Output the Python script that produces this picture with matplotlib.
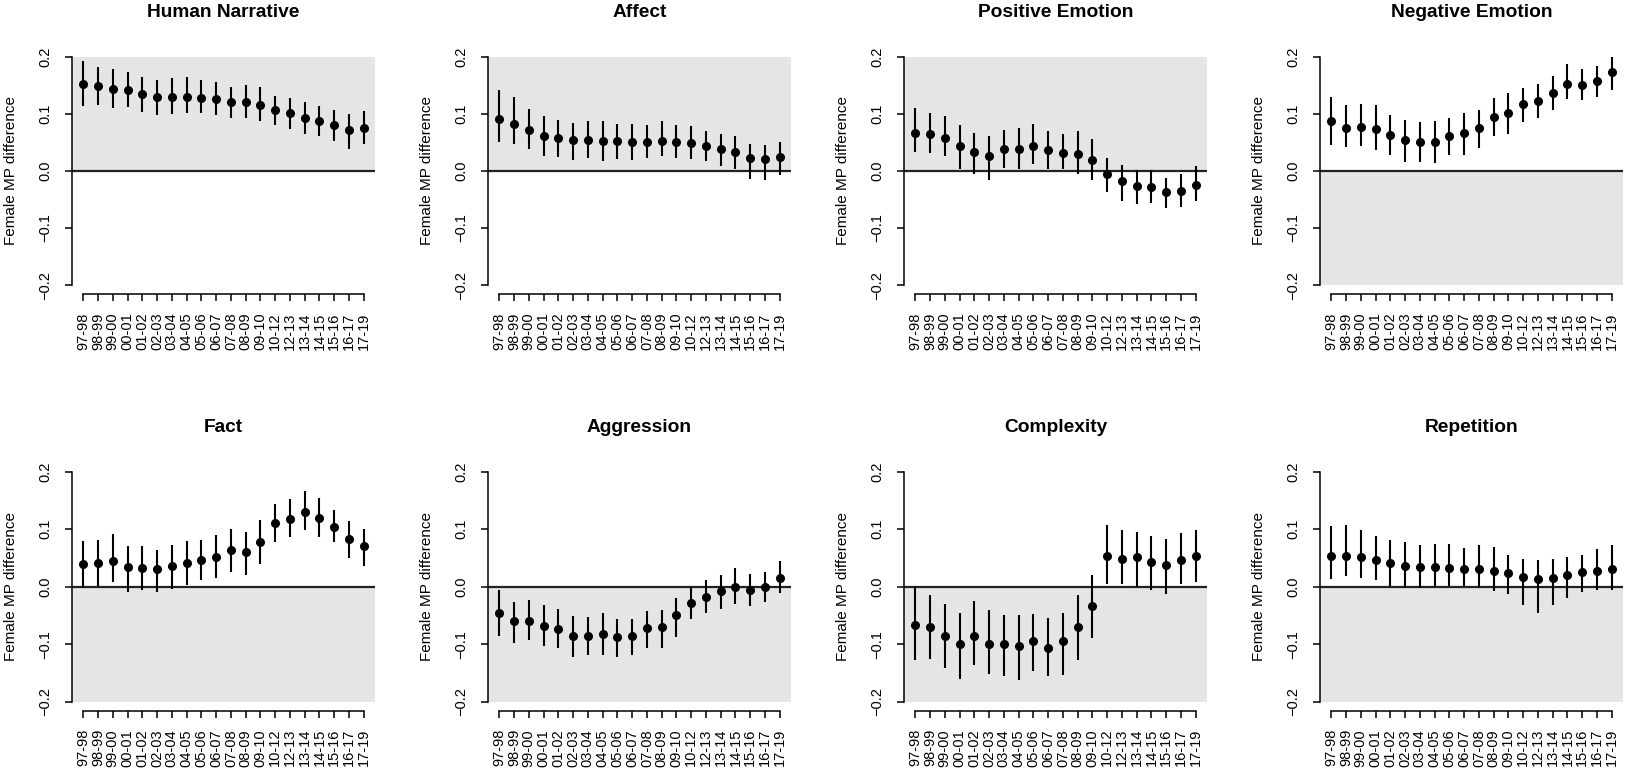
import numpy as np
import matplotlib
matplotlib.use("Agg")
import matplotlib.pyplot as plt

plt.rcParams['font.family'] = ['Liberation Sans', 'DejaVu Sans']

sessions = ['97-98', '98-99', '99-00', '00-01', '01-02', '02-03', '03-04',
            '04-05', '05-06', '06-07', '07-08', '08-09', '09-10', '10-12',
            '12-13', '13-14', '14-15', '15-16', '16-17', '17-19']

# estimate / lower / upper
narr_est = [0.152, 0.149, 0.144, 0.142, 0.134, 0.130, 0.130, 0.129, 0.128, 0.126,
            0.121, 0.121, 0.115, 0.106, 0.101, 0.092, 0.088, 0.080, 0.071, 0.075]
narr_lo = [0.114, 0.115, 0.111, 0.112, 0.104, 0.098, 0.100, 0.101, 0.101, 0.098,
           0.092, 0.092, 0.087, 0.081, 0.073, 0.065, 0.061, 0.053, 0.039, 0.047]
narr_hi = [0.192, 0.182, 0.178, 0.174, 0.165, 0.160, 0.163, 0.164, 0.160, 0.156,
           0.147, 0.150, 0.147, 0.131, 0.127, 0.121, 0.113, 0.106, 0.099, 0.105]

affect_est = [0.091, 0.082, 0.071, 0.062, 0.058, 0.054, 0.054, 0.053, 0.052, 0.051,
              0.051, 0.053, 0.051, 0.049, 0.043, 0.038, 0.033, 0.022, 0.020, 0.025]
affect_lo = [0.050, 0.048, 0.039, 0.026, 0.025, 0.019, 0.022, 0.018, 0.020, 0.019,
             0.023, 0.026, 0.022, 0.021, 0.017, 0.009, 0.004, -0.015, -0.016, -0.007]
affect_hi = [0.142, 0.129, 0.108, 0.097, 0.089, 0.084, 0.088, 0.087, 0.082, 0.082,
             0.080, 0.087, 0.081, 0.079, 0.070, 0.064, 0.061, 0.048, 0.046, 0.051]

pos_est = [0.067, 0.064, 0.058, 0.043, 0.033, 0.026, 0.038, 0.038, 0.043, 0.037,
           0.032, 0.030, 0.019, -0.006, -0.018, -0.026, -0.028, -0.037, -0.035, -0.025]
pos_lo = [0.033, 0.031, 0.026, 0.004, -0.006, -0.016, 0.005, 0.004, 0.012, 0.004,
          0.004, -0.005, -0.016, -0.037, -0.052, -0.058, -0.057, -0.065, -0.063, -0.053]
pos_hi = [0.111, 0.102, 0.096, 0.081, 0.067, 0.061, 0.071, 0.075, 0.082, 0.070,
          0.065, 0.070, 0.056, 0.022, 0.010, 0.002, 0.002, -0.012, -0.006, 0.008]

neg_est = [0.088, 0.076, 0.077, 0.074, 0.063, 0.055, 0.051, 0.051, 0.061, 0.066,
           0.075, 0.095, 0.102, 0.118, 0.122, 0.136, 0.153, 0.150, 0.157, 0.174]
neg_lo = [0.045, 0.041, 0.043, 0.036, 0.028, 0.015, 0.015, 0.013, 0.027, 0.028,
          0.040, 0.061, 0.065, 0.085, 0.092, 0.106, 0.126, 0.124, 0.129, 0.142]
neg_hi = [0.130, 0.116, 0.118, 0.115, 0.098, 0.089, 0.085, 0.087, 0.092, 0.101,
          0.107, 0.128, 0.136, 0.146, 0.153, 0.167, 0.188, 0.178, 0.184, 0.199]

fact_est = [0.039, 0.041, 0.045, 0.034, 0.032, 0.030, 0.036, 0.041, 0.047, 0.052,
            0.064, 0.061, 0.078, 0.111, 0.118, 0.130, 0.119, 0.103, 0.083, 0.070]
fact_lo = [-0.003, 0.001, 0.008, -0.009, -0.006, -0.010, -0.004, 0.003, 0.012, 0.016,
           0.026, 0.020, 0.039, 0.078, 0.086, 0.098, 0.087, 0.078, 0.050, 0.036]
fact_hi = [0.079, 0.082, 0.092, 0.071, 0.070, 0.063, 0.073, 0.080, 0.082, 0.090,
           0.100, 0.096, 0.116, 0.143, 0.152, 0.167, 0.154, 0.134, 0.114, 0.100]

aggr_est = [-0.045, -0.060, -0.059, -0.068, -0.074, -0.086, -0.086, -0.083, -0.088, -0.086,
            -0.072, -0.070, -0.049, -0.029, -0.018, -0.008, 0.000, -0.006, -0.001, 0.016]
aggr_lo = [-0.085, -0.098, -0.093, -0.103, -0.106, -0.122, -0.119, -0.119, -0.122, -0.119,
           -0.106, -0.106, -0.087, -0.056, -0.046, -0.039, -0.030, -0.034, -0.026, -0.011]
aggr_hi = [-0.005, -0.026, -0.023, -0.032, -0.039, -0.051, -0.053, -0.046, -0.056, -0.057,
           -0.043, -0.040, -0.019, -0.001, 0.012, 0.021, 0.032, 0.022, 0.025, 0.045]

comp_est = [-0.066, -0.070, -0.085, -0.100, -0.085, -0.099, -0.100, -0.103, -0.095, -0.106,
            -0.094, -0.070, -0.033, 0.053, 0.049, 0.051, 0.043, 0.038, 0.047, 0.053]
comp_lo = [-0.128, -0.125, -0.141, -0.161, -0.136, -0.151, -0.155, -0.163, -0.146, -0.155,
           -0.154, -0.128, -0.090, 0.004, 0.004, 0.000, -0.006, -0.012, 0.004, 0.009]
comp_hi = [0.001, -0.014, -0.030, -0.045, -0.025, -0.041, -0.050, -0.050, -0.048, -0.055,
           -0.046, -0.014, 0.020, 0.107, 0.099, 0.096, 0.089, 0.083, 0.094, 0.098]

rep_est = [0.053, 0.054, 0.052, 0.046, 0.041, 0.036, 0.034, 0.035, 0.032, 0.031,
           0.031, 0.028, 0.023, 0.017, 0.014, 0.016, 0.021, 0.025, 0.028, 0.030]
rep_lo = [0.014, 0.019, 0.016, 0.011, 0.001, -0.003, -0.003, -0.001, 0.001, 0.001,
          -0.002, -0.008, -0.012, -0.031, -0.045, -0.031, -0.019, -0.010, -0.006, -0.006]
rep_hi = [0.106, 0.107, 0.099, 0.089, 0.082, 0.078, 0.072, 0.074, 0.074, 0.067,
          0.072, 0.069, 0.056, 0.048, 0.046, 0.048, 0.051, 0.056, 0.065, 0.072]

panels = [
    ('Human Narrative', narr_est, narr_lo, narr_hi, 'up'),
    ('Affect', affect_est, affect_lo, affect_hi, 'up'),
    ('Positive Emotion', pos_est, pos_lo, pos_hi, 'up'),
    ('Negative Emotion', neg_est, neg_lo, neg_hi, 'down'),
    ('Fact', fact_est, fact_lo, fact_hi, 'down'),
    ('Aggression', aggr_est, aggr_lo, aggr_hi, 'down'),
    ('Complexity', comp_est, comp_lo, comp_hi, 'down'),
    ('Repetition', rep_est, rep_lo, rep_hi, 'down'),
]

W, H = 1625, 774
fig = plt.figure(figsize=(W / 100, H / 100), dpi=100)

col_left = [72, 488, 904, 1320]
ax_w = 303
row_box = [(47.6, 294.2), (462.5, 710.9)]  # top, bottom in px

x = np.arange(1, len(sessions) + 1)
pad_x = 0.04 * (len(sessions) - 1)

for i, (title, est, lo, hi, shade) in enumerate(panels):
    r, c = divmod(i, 4)
    top, bot = row_box[r]
    ax = fig.add_axes([col_left[c] / W, 1 - bot / H, ax_w / W, (bot - top) / H])

    ax.set_xlim(1 - pad_x, len(sessions) + pad_x)
    ax.set_ylim(-0.216, 0.216)

    if shade == 'up':
        ax.axhspan(0, 0.2, color='#e5e5e5', lw=0, zorder=0)
    else:
        ax.axhspan(-0.2, 0, color='#e5e5e5', lw=0, zorder=0)
    ax.axhline(0, color='#222222', lw=1.6, zorder=1)

    ax.vlines(x, lo, hi, color='black', lw=1.5, zorder=2)
    ax.plot(x, est, 'o', color='black', ms=5.5, zorder=3)

    for s in ['top', 'right']:
        ax.spines[s].set_visible(False)
    ax.spines['left'].set_bounds(-0.2, 0.2)
    ax.spines['bottom'].set_bounds(1, len(sessions))
    ax.spines['left'].set_linewidth(1.1)
    ax.spines['bottom'].set_linewidth(1.1)

    ax.set_yticks([-0.2, -0.1, 0.0, 0.1, 0.2])
    ax.set_yticklabels(['\u22120.2', '\u22120.1', '0.0', '0.1', '0.2'],
                       rotation=90, va='center')
    ax.set_xticks(x)
    ax.set_xticklabels(sessions, rotation=90)
    ax.tick_params(axis='both', length=5, width=1.1, labelsize=10.5)
    ax.tick_params(axis='y', pad=9)
    ax.tick_params(axis='x', pad=8)

    ax.set_ylabel('Female MP difference', fontsize=11)
    ax.yaxis.set_label_coords(-0.178, 0.5)
    ax.set_title(title, fontsize=13.8, fontweight='bold', pad=22)

fig.savefig('out.png', dpi=100)
